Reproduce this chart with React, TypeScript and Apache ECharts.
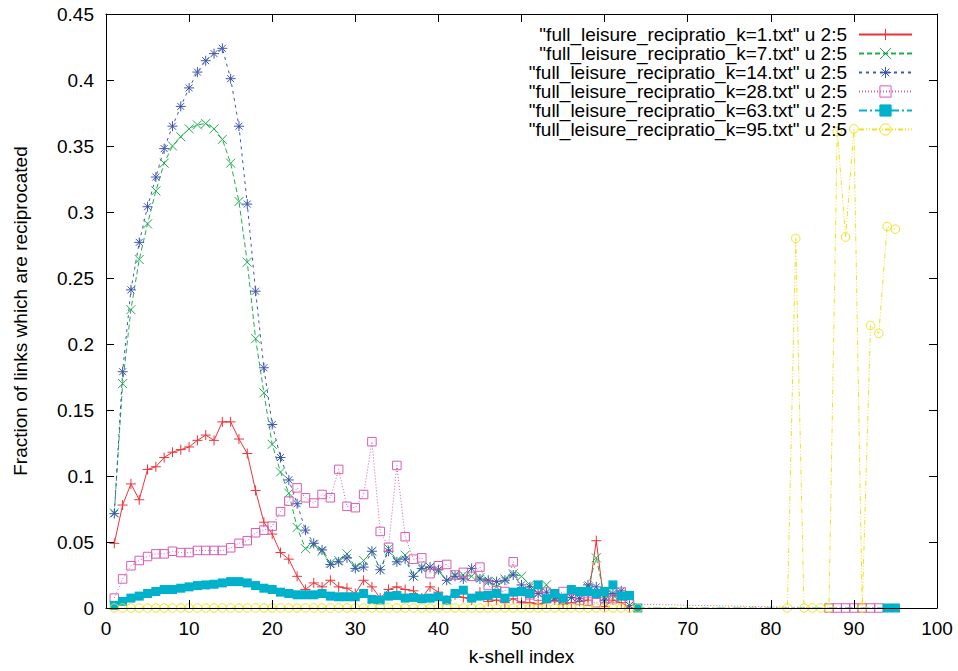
import React, { useEffect, useRef } from 'react';
import * as echarts from 'echarts';

// k-shell index for the dense part of every curve
const kShell = [
  1, 2, 3, 4, 5, 6, 7, 8, 9, 10, 11, 12, 13, 14, 15, 16, 17, 18, 19, 20,
  21, 22, 23, 24, 25, 26, 27, 28, 29, 30, 31, 32, 33, 34, 35, 36, 37, 38, 39, 40,
  41, 42, 43, 44, 45, 46, 47, 48, 49, 50, 51, 52, 53, 54, 55, 56, 57, 58, 59, 60,
  61, 62, 63, 64,
];

// fraction of reciprocated links, one array per input file
const recipK1 = [
  0.049, 0.078, 0.094, 0.082, 0.105, 0.107, 0.114, 0.118, 0.120, 0.122,
  0.127, 0.131, 0.127, 0.141, 0.141, 0.128, 0.117, 0.089, 0.065, 0.056,
  0.042, 0.037, 0.024, 0.014, 0.019, 0.016, 0.021, 0.016, 0.015, 0.011,
  0.021, 0.016, 0.0075, 0.014, 0.016, 0.014, 0.013, 0.0075, 0.016, 0.012,
  0.006, 0.010, 0.008, 0.006, 0.012, 0.005, 0.006, 0.004, 0.007, 0.004,
  0.004, 0.003, 0.004, 0.006, 0.003, 0.004, 0.005, 0.006, 0.051, 0.001,
  0.006, 0.004, 0.0, null,
];

const recipK7 = [
  0.072, 0.170, 0.226, 0.264, 0.291, 0.316, 0.337, 0.350, 0.357, 0.363,
  0.366, 0.367, 0.363, 0.355, 0.337, 0.308, 0.262, 0.204, 0.163, 0.124,
  0.103, 0.087, 0.061, 0.045, 0.048, 0.043, 0.034, 0.036, 0.041, 0.031,
  0.036, 0.043, 0.029, 0.045, 0.036, 0.040, 0.024, 0.031, 0.031, 0.028,
  0.021, 0.025, 0.025, 0.024, 0.023, 0.020, 0.016, 0.022, 0.026, 0.024,
  0.0175, 0.011, 0.0175, 0.008, 0.006, 0.008, 0.007, 0.016, 0.038, 0.008,
  0.010, 0.008, 0.002, null,
];

const recipK14 = [
  0.0715, 0.179, 0.241, 0.277, 0.304, 0.3265, 0.348, 0.365, 0.380, 0.394,
  0.406, 0.4146, 0.420, 0.424, 0.401, 0.365, 0.306, 0.240, 0.182, 0.139,
  0.114, 0.097, 0.079, 0.059, 0.049, 0.044, 0.033, 0.035, 0.038, 0.030,
  0.031, 0.043, 0.029, 0.043, 0.035, 0.037, 0.024, 0.030, 0.031, 0.029,
  0.021, 0.024, 0.022, 0.030, 0.022, 0.021, 0.020, 0.021, 0.025, 0.0175,
  0.016, 0.011, 0.012, 0.0075, 0.006, 0.008, 0.007, 0.0175, 0.016, 0.006,
  0.011, 0.013, 0.002, null,
];

const recipK28 = [
  0.0075, 0.022, 0.032, 0.036, 0.039, 0.041, 0.041, 0.043, 0.042, 0.042,
  0.0436, 0.0436, 0.0436, 0.0436, 0.0456, 0.049, 0.051, 0.057, 0.059, 0.062,
  0.073, 0.081, 0.091, 0.0835, 0.0795, 0.086, 0.0835, 0.105, 0.077, 0.076,
  0.086, 0.126, 0.058, 0.046, 0.108, 0.054, 0.037, 0.038, 0.026, 0.032,
  0.033, 0.025, 0.027, 0.024, 0.031, 0.017, 0.013, 0.0125, 0.035, 0.008,
  0.010, 0.009, 0.012, 0.008, 0.0125, 0.007, 0.006, 0.005, 0.004, 0.007,
  0.007, 0.012, 0.003, null,
];
const tailK28X = [87, 88, 89, 90, 91, 92, 93];
const tailK28Y = [0, 0, 0, 0, 0, 0, 0];

const recipK63 = [
  0.002, 0.005, 0.0075, 0.009, 0.011, 0.0125, 0.014, 0.014, 0.015, 0.016,
  0.017, 0.0175, 0.018, 0.019, 0.020, 0.020, 0.019, 0.017, 0.015, 0.014,
  0.012, 0.011, 0.010, 0.010, 0.010, 0.011, 0.009, 0.0085, 0.0085, 0.0085,
  0.011, 0.0065, 0.006, 0.009, 0.0095, 0.0075, 0.008, 0.007, 0.0075, 0.0085,
  0.006, 0.011, 0.0135, 0.0075, 0.009, 0.0095, 0.011, 0.0075, 0.012, 0.0125,
  0.011, 0.0175, 0.007, 0.011, 0.0075, 0.014, 0.0125, 0.0125, 0.011, 0.0125,
  0.0175, 0.009, 0.0095, 0.0,
];
const tailK63X = [94, 95];
const tailK63Y = [0, 0];

const recipK95 = [
  0, 0, 0, 0, 0, 0, 0, 0, 0, 0, 0, 0, 0, 0, 0, 0, 0, 0, 0, 0,
  0, 0, 0, 0, 0, 0, 0, 0, 0, 0, 0, 0, 0, 0, 0, 0, 0, 0, 0, 0,
  0, 0, 0, 0, 0, 0, 0, 0, 0, 0, 0, 0, 0, 0, 0, 0, 0, 0, 0, 0,
  0, 0, 0, 0,
];
const tailK95X = [82, 83, 84, 85, 86, 87, 88, 89, 90, 91, 92, 93, 94, 95];
const tailK95Y = [0, 0.280, 0, 0, 0, 0, 0.361, 0.281, 0.363, 0, 0.214, 0.208, 0.289, 0.287];

const seriesNames = [
  '"full_leisure_recipratio_k=1.txt" u 2:5',
  '"full_leisure_recipratio_k=7.txt" u 2:5',
  '"full_leisure_recipratio_k=14.txt" u 2:5',
  '"full_leisure_recipratio_k=28.txt" u 2:5',
  '"full_leisure_recipratio_k=63.txt" u 2:5',
  '"full_leisure_recipratio_k=95.txt" u 2:5',
];

const xTicks = { min: 0, max: 100, interval: 10 };
const yTicks = { min: 0, max: 0.45, interval: 0.05 };

const FONT = 'Liberation Sans, Arial, Helvetica, sans-serif';

const PLUS = 'path://M5,0V10M0,5H10';
const CROSS = 'path://M0,0L10,10M10,0L0,10';
const STAR = 'path://M5,0V10M0,5H10M1.5,1.5L8.5,8.5M8.5,1.5L1.5,8.5';

function pairs(xs: number[], ys: (number | null)[]) {
  const out: (number | null)[][] = [];
  xs.forEach((x, i) => {
    if (ys[i] !== null && ys[i] !== undefined) out.push([x, ys[i] as number]);
  });
  return out;
}

function lineSeries(
  name: string,
  data: (number | null)[][],
  color: string,
  dash: any,
  symbol: string,
  size: number,
  filled: boolean
) {
  return {
    type: 'line',
    name,
    data,
    symbol,
    symbolSize: size,
    showAllSymbol: true,
    connectNulls: false,
    lineStyle: { color, width: 1, type: dash },
    itemStyle: {
      color: filled ? color : 'rgba(0,0,0,0)',
      borderColor: color,
      borderWidth: filled ? 0 : 1,
    },
    emphasis: { disabled: true },
    z: 2,
  };
}

export default function App() {
  const ref = useRef<HTMLDivElement>(null);

  useEffect(() => {
    document.body.style.margin = '0';
    if (!ref.current) return;
    const chart = echarts.init(ref.current, undefined, { renderer: 'svg' });

    const axisCommonX = {
      type: 'value',
      ...xTicks,
      splitLine: { show: false },
      axisLine: { show: true, onZero: false, lineStyle: { color: '#000', width: 1 } },
      axisTick: { show: true, inside: true, length: 8, lineStyle: { color: '#000' } },
      z: 10,
    };
    const axisCommonY = {
      type: 'value',
      ...yTicks,
      splitLine: { show: false },
      axisLine: { show: true, onZero: false, lineStyle: { color: '#000', width: 1 } },
      axisTick: { show: true, inside: true, length: 8, lineStyle: { color: '#000' } },
      z: 10,
    };

    chart.setOption({
      animation: false,
      backgroundColor: '#fff',
      grid: { left: 106, right: 21, top: 14, bottom: 59, containLabel: false },
      xAxis: [
        {
          ...axisCommonX,
          position: 'bottom',
          name: 'k-shell index',
          nameLocation: 'middle',
          nameGap: 39,
          nameTextStyle: { fontFamily: FONT, fontSize: 19, color: '#000', verticalAlign: 'top' },
          axisLabel: { fontFamily: FONT, fontSize: 19, color: '#000', margin: 11 },
        },
        {
          ...axisCommonX,
          position: 'top',
          axisLabel: { show: false },
        },
      ],
      yAxis: [
        {
          ...axisCommonY,
          position: 'left',
          name: 'Fraction of links which are reciprocated',
          nameLocation: 'middle',
          nameGap: 76,
          nameRotate: 90,
          nameTextStyle: { fontFamily: FONT, fontSize: 19, color: '#000' },
          axisLabel: { fontFamily: FONT, fontSize: 19, color: '#000', margin: 12 },
        },
        {
          ...axisCommonY,
          position: 'right',
          axisLabel: { show: false },
        },
      ],
      legend: {
        orient: 'vertical',
        align: 'right',
        right: 40,
        top: 20,
        itemWidth: 53,
        itemHeight: 14,
        itemGap: 0,
        selectedMode: false,
        itemStyle: { borderWidth: 1 },
        textStyle: {
          fontFamily: FONT,
          fontSize: 19,
          color: '#000',
          lineHeight: 18.5,
          padding: [0, 7, 0, 0],
        },
        data: seriesNames,
      },
      series: [
        lineSeries(seriesNames[0], pairs(kShell, recipK1), '#ee3338', 'solid', PLUS, 10, false),
        lineSeries(seriesNames[1], pairs(kShell, recipK7), '#1fae4f', [5, 3], CROSS, 9, false),
        lineSeries(seriesNames[2], pairs(kShell, recipK14), '#3f57b0', [3, 4], STAR, 10, false),
        lineSeries(
          seriesNames[3],
          pairs(kShell, recipK28).concat(pairs(tailK28X, tailK28Y)),
          '#d65db4',
          [1, 2],
          'rect',
          8.5,
          false
        ),
        lineSeries(
          seriesNames[4],
          pairs(kShell, recipK63).concat(pairs(tailK63X, tailK63Y)),
          '#00b1cb',
          [8, 3, 2, 3],
          'rect',
          9,
          true
        ),
        lineSeries(
          seriesNames[5],
          pairs(kShell, recipK95).concat(pairs(tailK95X, tailK95Y)),
          '#eee21c',
          [5, 2, 1, 2, 1, 2],
          'circle',
          8.5,
          false
        ),
      ],
    });

    return () => chart.dispose();
  }, []);

  return <div ref={ref} style={{ width: 958, height: 671 }} />;
}
